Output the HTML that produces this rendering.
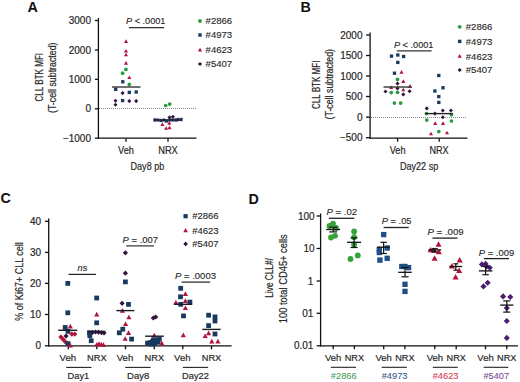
<!DOCTYPE html>
<html><head><meta charset="utf-8"><style>
html,body{margin:0;padding:0;background:#fff;overflow:hidden}
svg{display:block;font-family:"Liberation Sans",sans-serif}
</style></head><body>
<svg width="520" height="382" viewBox="0 0 520 382">
<rect width="520" height="382" fill="#fff"/>
<text x="27.6" y="12.2" font-size="14.3" fill="#111" text-anchor="start" font-weight="bold">A</text>
<line x1="98.4" y1="18" x2="98.4" y2="138.85" stroke="#111" stroke-width="1.3"/>
<line x1="94.9" y1="20.5" x2="98.4" y2="20.5" stroke="#111" stroke-width="1.3"/>
<text x="91" y="24.0" font-size="10" fill="#262626" text-anchor="end" stroke="#262626" stroke-width="0.18">3000</text>
<line x1="94.9" y1="50" x2="98.4" y2="50" stroke="#111" stroke-width="1.3"/>
<text x="91" y="53.5" font-size="10" fill="#262626" text-anchor="end" stroke="#262626" stroke-width="0.18">2000</text>
<line x1="94.9" y1="79.3" x2="98.4" y2="79.3" stroke="#111" stroke-width="1.3"/>
<text x="91" y="82.8" font-size="10" fill="#262626" text-anchor="end" stroke="#262626" stroke-width="0.18">1000</text>
<line x1="94.9" y1="108.8" x2="98.4" y2="108.8" stroke="#111" stroke-width="1.3"/>
<text x="91" y="112.3" font-size="10" fill="#262626" text-anchor="end" stroke="#262626" stroke-width="0.18">0</text>
<line x1="94.9" y1="138.2" x2="98.4" y2="138.2" stroke="#111" stroke-width="1.3"/>
<text x="91" y="141.7" font-size="10" fill="#262626" text-anchor="end" stroke="#262626" stroke-width="0.18">−1000</text>
<line x1="98" y1="138.2" x2="196.5" y2="138.2" stroke="#111" stroke-width="1.3"/>
<line x1="126" y1="138.2" x2="126" y2="141.7" stroke="#111" stroke-width="1.3"/>
<line x1="168" y1="138.2" x2="168" y2="141.7" stroke="#111" stroke-width="1.3"/>
<text x="126" y="154" font-size="10" fill="#262626" text-anchor="middle" textLength="15.9" lengthAdjust="spacingAndGlyphs" stroke="#262626" stroke-width="0.18">Veh</text>
<text x="168" y="154" font-size="10" fill="#262626" text-anchor="middle" textLength="19.6" lengthAdjust="spacingAndGlyphs" stroke="#262626" stroke-width="0.18">NRX</text>
<text x="147.4" y="169.8" font-size="10.6" fill="#262626" text-anchor="middle" textLength="33.6" lengthAdjust="spacingAndGlyphs" stroke="#262626" stroke-width="0.18">Day8 pb</text>
<line x1="99" y1="108.5" x2="197" y2="108.5" stroke="#888" stroke-width="1" stroke-dasharray="1,1"/>
<text x="126" y="23.9" font-size="9.4" fill="#262626" text-anchor="start" textLength="39.4" lengthAdjust="spacingAndGlyphs" stroke="#262626" stroke-width="0.12"><tspan font-style="italic">P</tspan> &lt; .0001</text>
<line x1="129" y1="27.7" x2="164" y2="27.7" stroke="#333" stroke-width="1.2"/>
<text x="42.6" y="77.2" font-size="10" fill="#262626" text-anchor="middle" textLength="48.5" lengthAdjust="spacingAndGlyphs" transform="rotate(-90 42.6 77.2)" stroke="#262626" stroke-width="0.18">CLL BTK MFI</text>
<text x="56.4" y="77.7" font-size="10" fill="#262626" text-anchor="middle" textLength="70.5" lengthAdjust="spacingAndGlyphs" transform="rotate(-90 56.4 77.7)" stroke="#262626" stroke-width="0.18">(T-cell subtracted)</text>
<circle cx="200" cy="21" r="1.9" fill="#2a9a40"/>
<rect x="198.29" y="33.29" width="3.42" height="3.42" fill="#19395e"/>
<path d="M200.00 47.63L202.09 51.39L197.91 51.39Z" fill="#b0143c"/>
<path d="M200.00 61.91L202.09 64.00L200.00 66.09L197.91 64.00Z" fill="#36133f"/>
<text x="205.6" y="24.3" font-size="9.6" fill="#262626" text-anchor="start" textLength="26.6" lengthAdjust="spacingAndGlyphs" stroke="#262626" stroke-width="0.12">#2866</text>
<text x="205.6" y="38.2" font-size="9.6" fill="#262626" text-anchor="start" textLength="26.6" lengthAdjust="spacingAndGlyphs" stroke="#262626" stroke-width="0.12">#4973</text>
<text x="205.6" y="52.7" font-size="9.6" fill="#262626" text-anchor="start" textLength="26.6" lengthAdjust="spacingAndGlyphs" stroke="#262626" stroke-width="0.12">#4623</text>
<text x="205.6" y="66.6" font-size="9.6" fill="#262626" text-anchor="start" textLength="26.6" lengthAdjust="spacingAndGlyphs" stroke="#262626" stroke-width="0.12">#5407</text>
<path d="M126.00 39.29L128.03 42.95L123.97 42.95Z" fill="#b0143c"/>
<path d="M126.00 48.89L128.03 52.55L123.97 52.55Z" fill="#b0143c"/>
<path d="M126.00 52.69L128.03 56.35L123.97 56.35Z" fill="#b0143c"/>
<path d="M126.00 60.99L128.03 64.65L123.97 64.65Z" fill="#b0143c"/>
<circle cx="125.9" cy="69.4" r="1.85" fill="#2a9a40"/>
<circle cx="122.6" cy="73.2" r="1.85" fill="#2a9a40"/>
<path d="M129.30 75.39L131.34 79.05L127.27 79.05Z" fill="#b0143c"/>
<rect x="121.13" y="80.13" width="3.33" height="3.33" fill="#19395e"/>
<circle cx="129.3" cy="84.4" r="1.85" fill="#2a9a40"/>
<rect x="114.03" y="87.63" width="3.33" height="3.33" fill="#19395e"/>
<path d="M122.60 91.06L124.63 93.10L122.60 95.13L120.56 93.10Z" fill="#36133f"/>
<rect x="127.64" y="90.73" width="3.33" height="3.33" fill="#19395e"/>
<rect x="134.53" y="90.33" width="3.33" height="3.33" fill="#19395e"/>
<path d="M115.50 98.67L117.53 100.70L115.50 102.73L113.47 100.70Z" fill="#36133f"/>
<rect x="120.93" y="98.93" width="3.33" height="3.33" fill="#19395e"/>
<path d="M129.30 99.06L131.34 101.10L129.30 103.13L127.27 101.10Z" fill="#36133f"/>
<path d="M136.20 99.06L138.23 101.10L136.20 103.13L134.16 101.10Z" fill="#36133f"/>
<path d="M115.50 102.67L117.53 104.70L115.50 106.73L113.47 104.70Z" fill="#36133f"/>
<line x1="112" y1="87" x2="140.5" y2="87" stroke="#333" stroke-width="1.4"/>
<circle cx="165.7" cy="105.5" r="1.85" fill="#2a9a40"/>
<circle cx="169.7" cy="104.1" r="1.85" fill="#2a9a40"/>
<rect x="153.34" y="118.33" width="3.33" height="3.33" fill="#19395e"/>
<path d="M158.00 117.97L160.03 120.00L158.00 122.03L155.97 120.00Z" fill="#36133f"/>
<rect x="159.34" y="118.83" width="3.33" height="3.33" fill="#19395e"/>
<path d="M164.00 117.97L166.03 120.00L164.00 122.03L161.97 120.00Z" fill="#36133f"/>
<rect x="164.84" y="119.33" width="3.33" height="3.33" fill="#19395e"/>
<rect x="168.34" y="118.33" width="3.33" height="3.33" fill="#19395e"/>
<path d="M173.00 117.97L175.03 120.00L173.00 122.03L170.97 120.00Z" fill="#36133f"/>
<rect x="174.34" y="118.33" width="3.33" height="3.33" fill="#19395e"/>
<path d="M178.00 117.47L180.03 119.50L178.00 121.53L175.97 119.50Z" fill="#36133f"/>
<rect x="179.34" y="117.83" width="3.33" height="3.33" fill="#19395e"/>
<path d="M169.50 115.37L171.53 117.40L169.50 119.44L167.47 117.40Z" fill="#36133f"/>
<path d="M172.90 114.67L174.94 116.70L172.90 118.73L170.87 116.70Z" fill="#36133f"/>
<path d="M162.40 122.39L164.44 126.05L160.37 126.05Z" fill="#b0143c"/>
<path d="M169.30 121.09L171.34 124.75L167.27 124.75Z" fill="#b0143c"/>
<path d="M166.10 126.19L168.13 129.85L164.06 129.85Z" fill="#b0143c"/>
<path d="M169.50 125.59L171.53 129.25L167.47 129.25Z" fill="#b0143c"/>
<line x1="154" y1="120" x2="181.5" y2="120" stroke="#1a2a3a" stroke-width="1.4"/>
<text x="300.6" y="12.2" font-size="14.3" fill="#111" text-anchor="start" font-weight="bold">B</text>
<line x1="370.1" y1="32.5" x2="370.1" y2="138.85" stroke="#111" stroke-width="1.3"/>
<line x1="366" y1="35" x2="370" y2="35" stroke="#111" stroke-width="1.3"/>
<text x="362.5" y="38.5" font-size="10" fill="#262626" text-anchor="end" stroke="#262626" stroke-width="0.18">2000</text>
<line x1="366" y1="55.5" x2="370" y2="55.5" stroke="#111" stroke-width="1.3"/>
<text x="362.5" y="59.0" font-size="10" fill="#262626" text-anchor="end" stroke="#262626" stroke-width="0.18">1500</text>
<line x1="366" y1="76" x2="370" y2="76" stroke="#111" stroke-width="1.3"/>
<text x="362.5" y="79.5" font-size="10" fill="#262626" text-anchor="end" stroke="#262626" stroke-width="0.18">1000</text>
<line x1="366" y1="96.5" x2="370" y2="96.5" stroke="#111" stroke-width="1.3"/>
<text x="362.5" y="100.0" font-size="10" fill="#262626" text-anchor="end" stroke="#262626" stroke-width="0.18">500</text>
<line x1="366" y1="117.2" x2="370" y2="117.2" stroke="#111" stroke-width="1.3"/>
<text x="362.5" y="120.7" font-size="10" fill="#262626" text-anchor="end" stroke="#262626" stroke-width="0.18">0</text>
<line x1="366" y1="137.7" x2="370" y2="137.7" stroke="#111" stroke-width="1.3"/>
<text x="362.5" y="141.2" font-size="10" fill="#262626" text-anchor="end" stroke="#262626" stroke-width="0.18">−500</text>
<line x1="369.5" y1="138.2" x2="467.5" y2="138.2" stroke="#111" stroke-width="1.3"/>
<line x1="397.6" y1="138.2" x2="397.6" y2="141.7" stroke="#111" stroke-width="1.3"/>
<line x1="439.2" y1="138.2" x2="439.2" y2="141.7" stroke="#111" stroke-width="1.3"/>
<text x="397.6" y="154" font-size="10" fill="#262626" text-anchor="middle" textLength="15.9" lengthAdjust="spacingAndGlyphs" stroke="#262626" stroke-width="0.18">Veh</text>
<text x="439" y="154" font-size="10" fill="#262626" text-anchor="middle" textLength="19.2" lengthAdjust="spacingAndGlyphs" stroke="#262626" stroke-width="0.18">NRX</text>
<text x="419.1" y="169.9" font-size="10.6" fill="#262626" text-anchor="middle" textLength="38.2" lengthAdjust="spacingAndGlyphs" stroke="#262626" stroke-width="0.18">Day22 sp</text>
<line x1="371" y1="117.5" x2="467" y2="117.5" stroke="#888" stroke-width="1" stroke-dasharray="1,1"/>
<text x="393.9" y="47.6" font-size="9.4" fill="#262626" text-anchor="start" textLength="39.6" lengthAdjust="spacingAndGlyphs" stroke="#262626" stroke-width="0.12"><tspan font-style="italic">P</tspan> &lt; .0001</text>
<line x1="396.9" y1="50.9" x2="431.6" y2="50.9" stroke="#333" stroke-width="1.2"/>
<text x="319.8" y="84.75" font-size="10" fill="#262626" text-anchor="middle" textLength="48.5" lengthAdjust="spacingAndGlyphs" transform="rotate(-90 319.8 84.75)" stroke="#262626" stroke-width="0.18">CLL BTK MFI</text>
<text x="333.5" y="84.2" font-size="10" fill="#262626" text-anchor="middle" textLength="70.5" lengthAdjust="spacingAndGlyphs" transform="rotate(-90 333.5 84.2)" stroke="#262626" stroke-width="0.18">(T-cell subtracted)</text>
<circle cx="459.7" cy="26.8" r="1.9" fill="#2a9a40"/>
<rect x="457.99" y="39.69" width="3.42" height="3.42" fill="#19395e"/>
<path d="M459.70 54.03L461.79 57.79L457.61 57.79Z" fill="#b0143c"/>
<path d="M459.70 67.91L461.79 70.00L459.70 72.09L457.61 70.00Z" fill="#36133f"/>
<text x="465.8" y="30.2" font-size="9.6" fill="#262626" text-anchor="start" textLength="26.6" lengthAdjust="spacingAndGlyphs" stroke="#262626" stroke-width="0.12">#2866</text>
<text x="465.8" y="44.8" font-size="9.6" fill="#262626" text-anchor="start" textLength="26.6" lengthAdjust="spacingAndGlyphs" stroke="#262626" stroke-width="0.12">#4973</text>
<text x="465.8" y="59.5" font-size="9.6" fill="#262626" text-anchor="start" textLength="26.6" lengthAdjust="spacingAndGlyphs" stroke="#262626" stroke-width="0.12">#4623</text>
<text x="465.8" y="73.4" font-size="9.6" fill="#262626" text-anchor="start" textLength="26.6" lengthAdjust="spacingAndGlyphs" stroke="#262626" stroke-width="0.12">#5407</text>
<rect x="389.83" y="54.44" width="3.33" height="3.33" fill="#19395e"/>
<rect x="396.13" y="53.34" width="3.33" height="3.33" fill="#19395e"/>
<rect x="401.94" y="54.84" width="3.33" height="3.33" fill="#19395e"/>
<rect x="396.13" y="60.73" width="3.33" height="3.33" fill="#19395e"/>
<path d="M401.50 69.99L403.54 73.65L399.46 73.65Z" fill="#b0143c"/>
<rect x="392.83" y="71.53" width="3.33" height="3.33" fill="#19395e"/>
<circle cx="397.5" cy="79.4" r="1.85" fill="#2a9a40"/>
<path d="M403.30 79.29L405.34 82.95L401.26 82.95Z" fill="#b0143c"/>
<path d="M397.50 81.56L399.54 83.60L397.50 85.63L395.46 83.60Z" fill="#36133f"/>
<path d="M391.20 85.39L393.24 89.05L389.16 89.05Z" fill="#b0143c"/>
<path d="M410.10 83.99L412.14 87.65L408.06 87.65Z" fill="#b0143c"/>
<path d="M397.50 86.37L399.54 88.40L397.50 90.44L395.46 88.40Z" fill="#36133f"/>
<path d="M403.30 87.69L405.34 91.35L401.26 91.35Z" fill="#b0143c"/>
<path d="M385.50 89.47L387.54 91.50L385.50 93.53L383.46 91.50Z" fill="#36133f"/>
<circle cx="391.2" cy="92.6" r="1.85" fill="#2a9a40"/>
<circle cx="397.5" cy="92.3" r="1.85" fill="#2a9a40"/>
<path d="M403.30 92.37L405.34 94.40L403.30 96.44L401.26 94.40Z" fill="#36133f"/>
<path d="M409.60 89.17L411.64 91.20L409.60 93.23L407.56 91.20Z" fill="#36133f"/>
<circle cx="394.4" cy="103.1" r="1.85" fill="#2a9a40"/>
<circle cx="400.7" cy="103.1" r="1.85" fill="#2a9a40"/>
<line x1="383.5" y1="87" x2="411.5" y2="87" stroke="#333" stroke-width="1.4"/>
<rect x="437.13" y="73.83" width="3.33" height="3.33" fill="#19395e"/>
<rect x="441.33" y="86.13" width="3.33" height="3.33" fill="#19395e"/>
<rect x="433.23" y="89.33" width="3.33" height="3.33" fill="#19395e"/>
<rect x="437.13" y="94.93" width="3.33" height="3.33" fill="#19395e"/>
<rect x="437.13" y="100.73" width="3.33" height="3.33" fill="#19395e"/>
<path d="M426.80 106.37L428.84 108.40L426.80 110.44L424.76 108.40Z" fill="#36133f"/>
<path d="M442.80 108.47L444.84 110.50L442.80 112.53L440.76 110.50Z" fill="#36133f"/>
<path d="M450.90 108.47L452.94 110.50L450.90 112.53L448.86 110.50Z" fill="#36133f"/>
<circle cx="426.5" cy="113.6" r="1.85" fill="#2a9a40"/>
<path d="M434.90 111.56L436.94 113.60L434.90 115.63L432.86 113.60Z" fill="#36133f"/>
<circle cx="451.4" cy="114.7" r="1.85" fill="#2a9a40"/>
<path d="M442.80 115.27L444.84 117.30L442.80 119.33L440.76 117.30Z" fill="#36133f"/>
<circle cx="426.8" cy="120.1" r="1.85" fill="#2a9a40"/>
<circle cx="451.4" cy="121" r="1.85" fill="#2a9a40"/>
<path d="M435.20 121.29L437.24 124.95L433.16 124.95Z" fill="#b0143c"/>
<path d="M443.00 121.29L445.04 124.95L440.96 124.95Z" fill="#b0143c"/>
<circle cx="438.8" cy="131.6" r="1.85" fill="#2a9a40"/>
<path d="M431.00 131.69L433.04 135.35L428.96 135.35Z" fill="#b0143c"/>
<path d="M447.00 130.69L449.04 134.35L444.96 134.35Z" fill="#b0143c"/>
<line x1="425.2" y1="113.6" x2="453" y2="113.6" stroke="#222" stroke-width="1.4"/>
<text x="0.5" y="203.3" font-size="14.3" fill="#111" text-anchor="start" font-weight="bold">C</text>
<line x1="48.7" y1="218.5" x2="48.7" y2="346.4" stroke="#111" stroke-width="1.3"/>
<line x1="44.9" y1="221.3" x2="48.7" y2="221.3" stroke="#111" stroke-width="1.3"/>
<text x="41.1" y="224.8" font-size="10" fill="#262626" text-anchor="end" stroke="#262626" stroke-width="0.18">40</text>
<line x1="44.9" y1="252.4" x2="48.7" y2="252.4" stroke="#111" stroke-width="1.3"/>
<text x="41.1" y="255.9" font-size="10" fill="#262626" text-anchor="end" stroke="#262626" stroke-width="0.18">30</text>
<line x1="44.9" y1="283.4" x2="48.7" y2="283.4" stroke="#111" stroke-width="1.3"/>
<text x="41.1" y="286.9" font-size="10" fill="#262626" text-anchor="end" stroke="#262626" stroke-width="0.18">20</text>
<line x1="44.9" y1="314.5" x2="48.7" y2="314.5" stroke="#111" stroke-width="1.3"/>
<text x="41.1" y="318.0" font-size="10" fill="#262626" text-anchor="end" stroke="#262626" stroke-width="0.18">10</text>
<line x1="44.9" y1="345.8" x2="48.7" y2="345.8" stroke="#111" stroke-width="1.3"/>
<text x="41.1" y="349.3" font-size="10" fill="#262626" text-anchor="end" stroke="#262626" stroke-width="0.18">0</text>
<line x1="48.1" y1="345.8" x2="231.6" y2="345.8" stroke="#111" stroke-width="1.3"/>
<line x1="68.3" y1="345.8" x2="68.3" y2="349.3" stroke="#111" stroke-width="1.3"/>
<line x1="96.8" y1="345.8" x2="96.8" y2="349.3" stroke="#111" stroke-width="1.3"/>
<line x1="125.5" y1="345.8" x2="125.5" y2="349.3" stroke="#111" stroke-width="1.3"/>
<line x1="154.3" y1="345.8" x2="154.3" y2="349.3" stroke="#111" stroke-width="1.3"/>
<line x1="182.8" y1="345.8" x2="182.8" y2="349.3" stroke="#111" stroke-width="1.3"/>
<line x1="211.5" y1="345.8" x2="211.5" y2="349.3" stroke="#111" stroke-width="1.3"/>
<text x="67.8" y="361.4" font-size="9.6" fill="#262626" text-anchor="middle" textLength="16.5" lengthAdjust="spacingAndGlyphs" stroke="#262626" stroke-width="0.18">Veh</text>
<text x="96.8" y="361.4" font-size="9.6" fill="#262626" text-anchor="middle" textLength="19.6" lengthAdjust="spacingAndGlyphs" stroke="#262626" stroke-width="0.18">NRX</text>
<text x="125.0" y="361.4" font-size="9.6" fill="#262626" text-anchor="middle" textLength="16.5" lengthAdjust="spacingAndGlyphs" stroke="#262626" stroke-width="0.18">Veh</text>
<text x="154.3" y="361.4" font-size="9.6" fill="#262626" text-anchor="middle" textLength="19.6" lengthAdjust="spacingAndGlyphs" stroke="#262626" stroke-width="0.18">NRX</text>
<text x="182.3" y="361.4" font-size="9.6" fill="#262626" text-anchor="middle" textLength="16.5" lengthAdjust="spacingAndGlyphs" stroke="#262626" stroke-width="0.18">Veh</text>
<text x="211.5" y="361.4" font-size="9.6" fill="#262626" text-anchor="middle" textLength="19.6" lengthAdjust="spacingAndGlyphs" stroke="#262626" stroke-width="0.18">NRX</text>
<line x1="66.2" y1="367.4" x2="91.5" y2="367.4" stroke="#222" stroke-width="1.1"/>
<text x="78.4" y="378.9" font-size="9.5" fill="#262626" text-anchor="middle" textLength="21.6" lengthAdjust="spacingAndGlyphs" stroke="#262626" stroke-width="0.18">Day1</text>
<line x1="125.2" y1="367.4" x2="150.6" y2="367.4" stroke="#222" stroke-width="1.1"/>
<text x="138.15" y="378.9" font-size="9.5" fill="#262626" text-anchor="middle" textLength="22.2" lengthAdjust="spacingAndGlyphs" stroke="#262626" stroke-width="0.18">Day8</text>
<line x1="182.8" y1="367.4" x2="208.1" y2="367.4" stroke="#222" stroke-width="1.1"/>
<text x="195.5" y="378.9" font-size="9.5" fill="#262626" text-anchor="middle" textLength="26.8" lengthAdjust="spacingAndGlyphs" stroke="#262626" stroke-width="0.18">Day22</text>
<text x="77.6" y="271.4" font-size="9.3" fill="#262626" text-anchor="start" textLength="9.6" lengthAdjust="spacingAndGlyphs" font-style="italic" stroke="#262626" stroke-width="0.12">ns</text>
<line x1="68.5" y1="274.4" x2="96" y2="274.4" stroke="#222" stroke-width="1.2"/>
<text x="122.6" y="242.9" font-size="9.4" fill="#262626" text-anchor="start" textLength="35.4" lengthAdjust="spacingAndGlyphs" stroke="#262626" stroke-width="0.12"><tspan font-style="italic">P</tspan> = .007</text>
<line x1="126.2" y1="245.9" x2="154" y2="245.9" stroke="#333" stroke-width="1.2"/>
<text x="174.9" y="279.4" font-size="9.4" fill="#262626" text-anchor="start" textLength="41.1" lengthAdjust="spacingAndGlyphs" stroke="#262626" stroke-width="0.12"><tspan font-style="italic">P</tspan> = .0003</text>
<line x1="181.6" y1="282.1" x2="210.2" y2="282.1" stroke="#222" stroke-width="1.2"/>
<text x="23.4" y="281.4" font-size="10.3" fill="#262626" text-anchor="middle" textLength="78.5" lengthAdjust="spacingAndGlyphs" transform="rotate(-90 23.4 281.4)" stroke="#262626" stroke-width="0.18">% of Ki67+ CLL cell</text>
<rect x="183.48" y="214.08" width="4.23" height="4.23" fill="#19395e"/>
<path d="M185.60 228.11L187.91 232.27L183.29 232.27Z" fill="#b0143c"/>
<path d="M185.60 241.59L187.91 243.90L185.60 246.21L183.29 243.90Z" fill="#36133f"/>
<text x="192.2" y="219.3" font-size="9.6" fill="#262626" text-anchor="start" textLength="26.4" lengthAdjust="spacingAndGlyphs" stroke="#262626" stroke-width="0.12">#2866</text>
<text x="192.2" y="233.5" font-size="9.6" fill="#262626" text-anchor="start" textLength="26.4" lengthAdjust="spacingAndGlyphs" stroke="#262626" stroke-width="0.12">#4623</text>
<text x="192.2" y="247" font-size="9.6" fill="#262626" text-anchor="start" textLength="26.4" lengthAdjust="spacingAndGlyphs" stroke="#262626" stroke-width="0.12">#5407</text>
<rect x="65.41" y="281.01" width="4.77" height="4.77" fill="#19395e"/>
<rect x="65.41" y="310.42" width="4.77" height="4.77" fill="#19395e"/>
<rect x="62.82" y="325.12" width="4.77" height="4.77" fill="#19395e"/>
<path d="M70.30 323.74L72.88 328.39L67.72 328.39Z" fill="#b0143c"/>
<rect x="65.61" y="329.01" width="4.77" height="4.77" fill="#19395e"/>
<path d="M71.90 331.52L74.48 334.10L71.90 336.69L69.32 334.10Z" fill="#b0143c"/>
<path d="M74.80 331.52L77.38 334.10L74.80 336.69L72.22 334.10Z" fill="#b0143c"/>
<path d="M66.00 333.52L68.58 336.10L66.00 338.69L63.41 336.10Z" fill="#36133f"/>
<path d="M60.90 334.42L63.48 337.00L60.90 339.58L58.31 337.00Z" fill="#b0143c"/>
<path d="M63.00 336.72L65.58 339.30L63.00 341.88L60.41 339.30Z" fill="#b0143c"/>
<path d="M65.30 339.22L67.88 341.80L65.30 344.38L62.71 341.80Z" fill="#b0143c"/>
<rect x="65.61" y="341.22" width="4.77" height="4.77" fill="#19395e"/>
<path d="M70.30 342.74L72.88 347.39L67.72 347.39Z" fill="#b0143c"/>
<rect x="94.31" y="295.62" width="4.77" height="4.77" fill="#19395e"/>
<path d="M96.70 311.84L99.28 316.49L94.12 316.49Z" fill="#b0143c"/>
<rect x="94.31" y="320.42" width="4.77" height="4.77" fill="#19395e"/>
<rect x="87.41" y="333.22" width="4.77" height="4.77" fill="#19395e"/>
<rect x="88.81" y="338.31" width="4.77" height="4.77" fill="#19395e"/>
<rect x="87.11" y="330.42" width="4.77" height="4.77" fill="#19395e"/>
<path d="M92.50 329.72L95.08 332.30L92.50 334.88L89.92 332.30Z" fill="#36133f"/>
<path d="M95.50 329.42L98.08 332.00L95.50 334.58L92.92 332.00Z" fill="#36133f"/>
<path d="M98.50 329.62L101.08 332.20L98.50 334.78L95.92 332.20Z" fill="#36133f"/>
<path d="M101.50 330.02L104.08 332.60L101.50 335.19L98.92 332.60Z" fill="#36133f"/>
<path d="M104.00 330.42L106.58 333.00L104.00 335.58L101.42 333.00Z" fill="#36133f"/>
<path d="M96.80 341.94L99.38 346.59L94.22 346.59Z" fill="#b0143c"/>
<path d="M99.00 341.24L101.58 345.89L96.42 345.89Z" fill="#b0143c"/>
<path d="M101.30 341.74L103.88 346.39L98.72 346.39Z" fill="#b0143c"/>
<path d="M103.50 342.24L106.08 346.89L100.92 346.89Z" fill="#b0143c"/>
<path d="M125.40 250.22L127.98 252.80L125.40 255.39L122.82 252.80Z" fill="#36133f"/>
<path d="M125.40 270.62L127.98 273.20L125.40 275.78L122.82 273.20Z" fill="#36133f"/>
<rect x="123.02" y="279.51" width="4.77" height="4.77" fill="#19395e"/>
<path d="M122.10 300.72L124.68 303.30L122.10 305.88L119.52 303.30Z" fill="#36133f"/>
<rect x="126.11" y="302.01" width="4.77" height="4.77" fill="#19395e"/>
<path d="M122.40 308.04L124.98 312.69L119.82 312.69Z" fill="#b0143c"/>
<path d="M128.90 314.64L131.49 319.29L126.32 319.29Z" fill="#b0143c"/>
<path d="M125.60 321.44L128.19 326.09L123.02 326.09Z" fill="#b0143c"/>
<rect x="120.41" y="326.81" width="4.77" height="4.77" fill="#19395e"/>
<rect x="116.91" y="330.42" width="4.77" height="4.77" fill="#19395e"/>
<path d="M128.50 330.24L131.09 334.89L125.92 334.89Z" fill="#b0143c"/>
<path d="M125.20 336.14L127.78 340.79L122.62 340.79Z" fill="#b0143c"/>
<rect x="129.22" y="336.72" width="4.77" height="4.77" fill="#19395e"/>
<path d="M153.30 315.42L155.89 318.00L153.30 320.58L150.72 318.00Z" fill="#36133f"/>
<path d="M155.70 314.42L158.28 317.00L155.70 319.58L153.11 317.00Z" fill="#36133f"/>
<path d="M154.30 332.74L156.89 337.39L151.72 337.39Z" fill="#b0143c"/>
<rect x="145.12" y="340.81" width="4.77" height="4.77" fill="#19395e"/>
<rect x="147.62" y="340.22" width="4.77" height="4.77" fill="#19395e"/>
<rect x="150.12" y="339.22" width="4.77" height="4.77" fill="#19395e"/>
<rect x="152.62" y="338.62" width="4.77" height="4.77" fill="#19395e"/>
<rect x="155.12" y="337.62" width="4.77" height="4.77" fill="#19395e"/>
<rect x="156.92" y="336.62" width="4.77" height="4.77" fill="#19395e"/>
<rect x="148.62" y="341.62" width="4.77" height="4.77" fill="#19395e"/>
<rect x="152.62" y="341.01" width="4.77" height="4.77" fill="#19395e"/>
<rect x="155.62" y="339.81" width="4.77" height="4.77" fill="#19395e"/>
<rect x="151.12" y="337.42" width="4.77" height="4.77" fill="#19395e"/>
<path d="M161.80 340.54L164.39 345.19L159.22 345.19Z" fill="#b0143c"/>
<rect x="178.31" y="285.92" width="4.77" height="4.77" fill="#19395e"/>
<path d="M185.40 291.24L187.99 295.89L182.81 295.89Z" fill="#b0143c"/>
<rect x="178.12" y="294.42" width="4.77" height="4.77" fill="#19395e"/>
<path d="M185.40 298.24L187.99 302.89L182.81 302.89Z" fill="#b0143c"/>
<path d="M175.90 299.94L178.49 304.59L173.31 304.59Z" fill="#b0143c"/>
<rect x="178.31" y="301.92" width="4.77" height="4.77" fill="#19395e"/>
<rect x="187.52" y="299.72" width="4.77" height="4.77" fill="#19395e"/>
<path d="M185.40 305.44L187.99 310.09L182.81 310.09Z" fill="#b0143c"/>
<rect x="181.12" y="313.51" width="4.77" height="4.77" fill="#19395e"/>
<path d="M183.30 332.54L185.89 337.19L180.72 337.19Z" fill="#b0143c"/>
<rect x="206.22" y="312.81" width="4.77" height="4.77" fill="#19395e"/>
<rect x="212.62" y="314.51" width="4.77" height="4.77" fill="#19395e"/>
<rect x="212.62" y="318.62" width="4.77" height="4.77" fill="#19395e"/>
<rect x="206.22" y="323.22" width="4.77" height="4.77" fill="#19395e"/>
<path d="M208.60 330.54L211.19 335.19L206.01 335.19Z" fill="#b0143c"/>
<path d="M205.20 333.44L207.78 338.09L202.61 338.09Z" fill="#b0143c"/>
<rect x="212.62" y="331.62" width="4.77" height="4.77" fill="#19395e"/>
<path d="M211.80 338.84L214.39 343.49L209.22 343.49Z" fill="#b0143c"/>
<path d="M217.90 338.84L220.49 343.49L215.31 343.49Z" fill="#b0143c"/>
<line x1="58.2" y1="330.3" x2="77.4" y2="330.3" stroke="#1a1a2a" stroke-width="1.4"/>
<line x1="87.5" y1="331.5" x2="105.4" y2="331.5" stroke="#1a1a2a" stroke-width="1.4"/>
<line x1="116.4" y1="310.6" x2="134.4" y2="310.6" stroke="#1a1a2a" stroke-width="1.4"/>
<line x1="145.2" y1="336.2" x2="163.8" y2="336.2" stroke="#1a1a2a" stroke-width="1.4"/>
<line x1="174" y1="304.3" x2="192.2" y2="304.3" stroke="#1a1a2a" stroke-width="1.4"/>
<line x1="202.3" y1="329.4" x2="220.7" y2="329.4" stroke="#1a1a2a" stroke-width="1.4"/>
<text x="248.6" y="203.6" font-size="14.3" fill="#111" text-anchor="start" font-weight="bold">D</text>
<line x1="320.6" y1="213.5" x2="320.6" y2="346.4" stroke="#111" stroke-width="1.3"/>
<line x1="316.6" y1="216" x2="320.6" y2="216" stroke="#111" stroke-width="1.3"/>
<text x="314.6" y="219.5" font-size="10" fill="#262626" text-anchor="end" stroke="#262626" stroke-width="0.18">100</text>
<line x1="316.6" y1="248.5" x2="320.6" y2="248.5" stroke="#111" stroke-width="1.3"/>
<text x="314.6" y="252.0" font-size="10" fill="#262626" text-anchor="end" stroke="#262626" stroke-width="0.18">10</text>
<line x1="316.6" y1="281" x2="320.6" y2="281" stroke="#111" stroke-width="1.3"/>
<text x="313.40000000000003" y="284.5" font-size="10" fill="#262626" text-anchor="end" stroke="#262626" stroke-width="0.18">1</text>
<line x1="316.6" y1="313.3" x2="320.6" y2="313.3" stroke="#111" stroke-width="1.3"/>
<text x="313.40000000000003" y="316.8" font-size="10" fill="#262626" text-anchor="end" stroke="#262626" stroke-width="0.18">01</text>
<line x1="316.6" y1="345.8" x2="320.6" y2="345.8" stroke="#111" stroke-width="1.3"/>
<text x="313.40000000000003" y="349.3" font-size="10" fill="#262626" text-anchor="end" stroke="#262626" stroke-width="0.18">0.01</text>
<line x1="320" y1="345.8" x2="518" y2="345.8" stroke="#111" stroke-width="1.3"/>
<line x1="333.2" y1="345.8" x2="333.2" y2="349.3" stroke="#111" stroke-width="1.3"/>
<line x1="354.4" y1="345.8" x2="354.4" y2="349.3" stroke="#111" stroke-width="1.3"/>
<line x1="383.7" y1="345.8" x2="383.7" y2="349.3" stroke="#111" stroke-width="1.3"/>
<line x1="404.9" y1="345.8" x2="404.9" y2="349.3" stroke="#111" stroke-width="1.3"/>
<line x1="434.8" y1="345.8" x2="434.8" y2="349.3" stroke="#111" stroke-width="1.3"/>
<line x1="456.2" y1="345.8" x2="456.2" y2="349.3" stroke="#111" stroke-width="1.3"/>
<line x1="485.5" y1="345.8" x2="485.5" y2="349.3" stroke="#111" stroke-width="1.3"/>
<line x1="506.8" y1="345.8" x2="506.8" y2="349.3" stroke="#111" stroke-width="1.3"/>
<text x="333.2" y="361.4" font-size="9.6" fill="#262626" text-anchor="middle" textLength="16.3" lengthAdjust="spacingAndGlyphs" stroke="#262626" stroke-width="0.18">Veh</text>
<text x="354.4" y="361.4" font-size="9.6" fill="#262626" text-anchor="middle" textLength="19.4" lengthAdjust="spacingAndGlyphs" stroke="#262626" stroke-width="0.18">NRX</text>
<text x="383.7" y="361.4" font-size="9.6" fill="#262626" text-anchor="middle" textLength="16.3" lengthAdjust="spacingAndGlyphs" stroke="#262626" stroke-width="0.18">Veh</text>
<text x="404.9" y="361.4" font-size="9.6" fill="#262626" text-anchor="middle" textLength="19.4" lengthAdjust="spacingAndGlyphs" stroke="#262626" stroke-width="0.18">NRX</text>
<text x="434.8" y="361.4" font-size="9.6" fill="#262626" text-anchor="middle" textLength="16.3" lengthAdjust="spacingAndGlyphs" stroke="#262626" stroke-width="0.18">Veh</text>
<text x="456.2" y="361.4" font-size="9.6" fill="#262626" text-anchor="middle" textLength="19.4" lengthAdjust="spacingAndGlyphs" stroke="#262626" stroke-width="0.18">NRX</text>
<text x="485.5" y="361.4" font-size="9.6" fill="#262626" text-anchor="middle" textLength="16.3" lengthAdjust="spacingAndGlyphs" stroke="#262626" stroke-width="0.18">Veh</text>
<text x="506.8" y="361.4" font-size="9.6" fill="#262626" text-anchor="middle" textLength="19.4" lengthAdjust="spacingAndGlyphs" stroke="#262626" stroke-width="0.18">NRX</text>
<line x1="330.8" y1="367.3" x2="356.1" y2="367.3" stroke="#222" stroke-width="1.1"/>
<text x="343.75000000000006" y="379" font-size="9.4" fill="#4e9e5c" text-anchor="middle" textLength="25.8" lengthAdjust="spacingAndGlyphs" stroke="#4e9e5c" stroke-width="0.1">#2866</text>
<line x1="381.7" y1="367.3" x2="406.9" y2="367.3" stroke="#222" stroke-width="1.1"/>
<text x="394.59999999999997" y="379" font-size="9.4" fill="#3a5a8c" text-anchor="middle" textLength="25.8" lengthAdjust="spacingAndGlyphs" stroke="#3a5a8c" stroke-width="0.1">#4973</text>
<line x1="432.8" y1="367.3" x2="457.8" y2="367.3" stroke="#222" stroke-width="1.1"/>
<text x="445.6" y="379" font-size="9.4" fill="#d63a5a" text-anchor="middle" textLength="25.8" lengthAdjust="spacingAndGlyphs" stroke="#d63a5a" stroke-width="0.1">#4623</text>
<line x1="483.7" y1="367.3" x2="508.3" y2="367.3" stroke="#222" stroke-width="1.1"/>
<text x="496.3" y="379" font-size="9.4" fill="#7a4d96" text-anchor="middle" textLength="25.8" lengthAdjust="spacingAndGlyphs" stroke="#7a4d96" stroke-width="0.1">#5407</text>
<text x="326.5" y="215.3" font-size="9.4" fill="#262626" text-anchor="start" textLength="30.6" lengthAdjust="spacingAndGlyphs" stroke="#262626" stroke-width="0.12"><tspan font-style="italic">P</tspan> = .02</text>
<line x1="328.9" y1="218.3" x2="354.3" y2="218.3" stroke="#222" stroke-width="1.3"/>
<text x="381.7" y="224.4" font-size="9.4" fill="#262626" text-anchor="start" textLength="29.8" lengthAdjust="spacingAndGlyphs" stroke="#262626" stroke-width="0.12"><tspan font-style="italic">P</tspan> = .05</text>
<line x1="383.6" y1="227.5" x2="408.7" y2="227.5" stroke="#222" stroke-width="1.3"/>
<text x="427.5" y="235.2" font-size="9.4" fill="#262626" text-anchor="start" textLength="36.1" lengthAdjust="spacingAndGlyphs" stroke="#262626" stroke-width="0.12"><tspan font-style="italic">P</tspan> = .009</text>
<line x1="432.4" y1="238.1" x2="457.6" y2="238.1" stroke="#222" stroke-width="1.3"/>
<text x="478.8" y="255.5" font-size="9.4" fill="#262626" text-anchor="start" textLength="35.4" lengthAdjust="spacingAndGlyphs" stroke="#262626" stroke-width="0.12"><tspan font-style="italic">P</tspan> = .009</text>
<line x1="483.9" y1="258.6" x2="509" y2="258.6" stroke="#222" stroke-width="1.3"/>
<text x="272.8" y="277.9" font-size="10" fill="#262626" text-anchor="middle" textLength="39.5" lengthAdjust="spacingAndGlyphs" transform="rotate(-90 272.8 277.9)" stroke="#262626" stroke-width="0.18">Live CLL#/</text>
<text x="287" y="278.7" font-size="10" fill="#262626" text-anchor="middle" textLength="89" lengthAdjust="spacingAndGlyphs" transform="rotate(-90 287 278.7)" stroke="#262626" stroke-width="0.18">100 total CD45+ cells</text>
<circle cx="333" cy="223.6" r="2.9" fill="#36a238"/>
<circle cx="329.5" cy="226" r="2.9" fill="#36a238"/>
<circle cx="336" cy="228" r="2.9" fill="#36a238"/>
<circle cx="335" cy="235.8" r="2.9" fill="#36a238"/>
<circle cx="331" cy="237.5" r="2.9" fill="#36a238"/>
<circle cx="354.1" cy="231.5" r="2.9" fill="#36a238"/>
<circle cx="354.1" cy="237.2" r="2.9" fill="#36a238"/>
<circle cx="354.1" cy="244.4" r="2.9" fill="#36a238"/>
<circle cx="357.8" cy="255.4" r="2.9" fill="#36a238"/>
<circle cx="350.5" cy="259" r="2.9" fill="#36a238"/>
<rect x="381.03" y="231.93" width="5.336" height="5.336" fill="#1d5088"/>
<rect x="384.53" y="245.33" width="5.336" height="5.336" fill="#1d5088"/>
<rect x="376.63" y="246.83" width="5.336" height="5.336" fill="#1d5088"/>
<rect x="376.63" y="249.83" width="5.336" height="5.336" fill="#1d5088"/>
<rect x="384.53" y="255.63" width="5.336" height="5.336" fill="#1d5088"/>
<rect x="377.23" y="257.43" width="5.336" height="5.336" fill="#1d5088"/>
<rect x="399.13" y="263.83" width="5.336" height="5.336" fill="#1d5088"/>
<rect x="402.33" y="263.83" width="5.336" height="5.336" fill="#1d5088"/>
<rect x="405.93" y="264.93" width="5.336" height="5.336" fill="#1d5088"/>
<rect x="402.33" y="281.63" width="5.336" height="5.336" fill="#1d5088"/>
<rect x="402.33" y="288.73" width="5.336" height="5.336" fill="#1d5088"/>
<path d="M438.50 241.29L441.55 246.77L435.45 246.77Z" fill="#b8123c"/>
<path d="M430.60 246.89L433.65 252.37L427.56 252.37Z" fill="#b8123c"/>
<path d="M433.80 247.29L436.85 252.77L430.75 252.77Z" fill="#b8123c"/>
<path d="M438.90 248.89L441.94 254.37L435.85 254.37Z" fill="#b8123c"/>
<path d="M434.60 255.19L437.65 260.67L431.56 260.67Z" fill="#b8123c"/>
<path d="M459.70 257.09L462.75 262.57L456.65 262.57Z" fill="#b8123c"/>
<path d="M451.90 263.09L454.94 268.57L448.85 268.57Z" fill="#b8123c"/>
<path d="M459.20 267.59L462.25 273.07L456.15 273.07Z" fill="#b8123c"/>
<path d="M455.60 274.09L458.65 279.57L452.56 279.57Z" fill="#b8123c"/>
<path d="M481.90 261.35L484.94 264.40L481.90 267.44L478.85 264.40Z" fill="#4a1a6e"/>
<path d="M485.60 260.85L488.65 263.90L485.60 266.94L482.56 263.90Z" fill="#4a1a6e"/>
<path d="M486.70 263.45L489.75 266.50L486.70 269.55L483.65 266.50Z" fill="#4a1a6e"/>
<path d="M489.80 264.75L492.85 267.80L489.80 270.85L486.75 267.80Z" fill="#4a1a6e"/>
<path d="M487.70 279.65L490.75 282.70L487.70 285.75L484.65 282.70Z" fill="#4a1a6e"/>
<path d="M483.50 283.35L486.55 286.40L483.50 289.44L480.45 286.40Z" fill="#4a1a6e"/>
<path d="M503.10 293.35L506.15 296.40L503.10 299.44L500.06 296.40Z" fill="#4a1a6e"/>
<path d="M510.30 293.95L513.35 297.00L510.30 300.05L507.25 297.00Z" fill="#4a1a6e"/>
<path d="M506.80 305.06L509.85 308.10L506.80 311.15L503.75 308.10Z" fill="#4a1a6e"/>
<path d="M506.80 317.95L509.85 321.00L506.80 324.05L503.75 321.00Z" fill="#4a1a6e"/>
<path d="M506.80 334.85L509.85 337.90L506.80 340.94L503.75 337.90Z" fill="#4a1a6e"/>
<line x1="326.2" y1="229.5" x2="340.2" y2="229.5" stroke="#111" stroke-width="1.3"/>
<line x1="333.2" y1="227.2" x2="333.2" y2="231.9" stroke="#111" stroke-width="1.2"/>
<line x1="329.2" y1="227.2" x2="337.2" y2="227.2" stroke="#111" stroke-width="1.2"/>
<line x1="329.2" y1="231.9" x2="337.2" y2="231.9" stroke="#111" stroke-width="1.2"/>
<line x1="347.1" y1="242.3" x2="361.1" y2="242.3" stroke="#111" stroke-width="1.3"/>
<line x1="354.1" y1="237.8" x2="354.1" y2="247.5" stroke="#111" stroke-width="1.2"/>
<line x1="350.6" y1="237.8" x2="357.6" y2="237.8" stroke="#111" stroke-width="1.2"/>
<line x1="350.6" y1="247.5" x2="357.6" y2="247.5" stroke="#111" stroke-width="1.2"/>
<line x1="377.3" y1="247.2" x2="389.90000000000003" y2="247.2" stroke="#111" stroke-width="1.3"/>
<line x1="383.6" y1="242.3" x2="383.6" y2="253.5" stroke="#111" stroke-width="1.2"/>
<line x1="380.40000000000003" y1="242.3" x2="386.8" y2="242.3" stroke="#111" stroke-width="1.2"/>
<line x1="380.40000000000003" y1="253.5" x2="386.8" y2="253.5" stroke="#111" stroke-width="1.2"/>
<line x1="398.2" y1="272.3" x2="411.8" y2="272.3" stroke="#111" stroke-width="1.3"/>
<line x1="405" y1="267.5" x2="405" y2="276.8" stroke="#111" stroke-width="1.2"/>
<line x1="401.4" y1="267.5" x2="408.6" y2="267.5" stroke="#111" stroke-width="1.2"/>
<line x1="401.4" y1="276.8" x2="408.6" y2="276.8" stroke="#111" stroke-width="1.2"/>
<line x1="428.5" y1="249.9" x2="441.1" y2="249.9" stroke="#111" stroke-width="1.3"/>
<line x1="434.8" y1="248.7" x2="434.8" y2="251.9" stroke="#111" stroke-width="1.2"/>
<line x1="431.8" y1="248.7" x2="437.8" y2="248.7" stroke="#111" stroke-width="1.2"/>
<line x1="431.8" y1="251.9" x2="437.8" y2="251.9" stroke="#111" stroke-width="1.2"/>
<line x1="449.40000000000003" y1="266.5" x2="462.2" y2="266.5" stroke="#111" stroke-width="1.3"/>
<line x1="455.8" y1="263.8" x2="455.8" y2="270.2" stroke="#111" stroke-width="1.2"/>
<line x1="453.40000000000003" y1="263.8" x2="458.2" y2="263.8" stroke="#111" stroke-width="1.2"/>
<line x1="453.40000000000003" y1="270.2" x2="458.2" y2="270.2" stroke="#111" stroke-width="1.2"/>
<line x1="478.8" y1="270.9" x2="492.40000000000003" y2="270.9" stroke="#111" stroke-width="1.3"/>
<line x1="485.6" y1="266.5" x2="485.6" y2="274.7" stroke="#111" stroke-width="1.2"/>
<line x1="482.40000000000003" y1="266.5" x2="488.8" y2="266.5" stroke="#111" stroke-width="1.2"/>
<line x1="482.40000000000003" y1="274.7" x2="488.8" y2="274.7" stroke="#111" stroke-width="1.2"/>
<line x1="500.2" y1="305.1" x2="513.4" y2="305.1" stroke="#111" stroke-width="1.3"/>
<line x1="506.8" y1="300.9" x2="506.8" y2="312.1" stroke="#111" stroke-width="1.2"/>
<line x1="503.2" y1="300.9" x2="510.40000000000003" y2="300.9" stroke="#111" stroke-width="1.2"/>
<line x1="503.2" y1="312.1" x2="510.40000000000003" y2="312.1" stroke="#111" stroke-width="1.2"/>
</svg>
</body></html>
